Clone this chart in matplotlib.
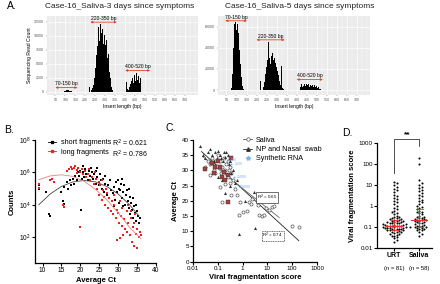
import numpy as np
import matplotlib
matplotlib.use("Agg")
import matplotlib.pyplot as plt
from matplotlib.lines import Line2D

plt.rcParams['font.family'] = ['Liberation Sans', 'DejaVu Sans']

# ---------------- data ----------------
# Panel A, day 3 histogram (insert length bp, read count)
d3_bp = [95, 100, 105, 110, 115, 120, 125, 130,
         220, 230, 235, 240, 245, 250, 255, 260, 265, 270, 275, 280, 285, 290, 295,
         300, 305, 310, 315, 320, 325, 330, 335,
         405, 410, 415, 420, 425, 430, 435, 440, 445, 450, 455, 460, 465, 470, 475,
         480, 485, 490, 495, 500, 505, 510, 515, 520, 525,
         580, 590, 600, 610, 620, 630, 640]
d3_cnt = [120, 200, 260, 300, 250, 220, 150, 100,
          900, 300, 600, 1200, 2500, 4200, 6500, 8200, 11500, 9000, 12000, 10500, 11200, 8600, 10200,
          8400, 9200, 6000, 6800, 3600, 2400, 900, 300,
          1800, 500, 300, 900, 1400, 2000, 2400, 1500, 3000, 1900, 3300, 2100, 2900, 1600, 2400,
          1300, 1900, 1000, 1500, 800, 1100, 500, 650, 300, 150,
          100, 150, 200, 180, 160, 120, 90]

# Panel A, day 5 histogram
d5_bp = [75, 80, 85, 90, 95, 100, 105, 110, 115, 120, 125, 130, 135,
         220, 235, 240, 245, 250, 255, 260, 265, 270, 275, 280, 285, 290, 295,
         300, 305, 310, 315, 320, 325, 330, 335,
         420, 425, 430, 435, 440, 445, 450, 455, 460, 465, 470, 475, 480, 485,
         490, 495, 500, 505, 510, 515, 520,
         600, 610, 620, 630, 640, 650]
d5_cnt = [2000, 15000, 40000, 62000, 64000, 57000, 62000, 54000, 38000, 25000, 12000, 4000, 800,
          9000, 3000, 8000, 15000, 22000, 28000, 45000, 30000, 25000, 32000, 35000, 28000, 30000, 26000,
          22000, 18000, 14000, 9000, 5000, 23000, 2000, 800,
          3000, 6000, 2500, 4000, 5500, 3500, 6000, 4500, 5500, 3000, 5000, 4000, 5200, 3000,
          4500, 2500, 4000, 2000, 3000, 1500, 800,
          1000, 1500, 1300, 1200, 1400, 900]

# Panel B: average Ct vs log10 counts
short_ct = [9.0, 9.1, 10.9, 11.6, 11.9, 14.9, 15.4, 15.6, 15.8, 16.4, 16.8, 17.2, 17.6, 18.0, 18.3,
            18.7, 19.0, 19.3, 19.6, 19.9, 20.1, 20.3, 20.6, 21.0, 21.3, 21.6, 22.0, 22.3, 22.6, 23.0,
            23.3, 23.6, 24.0, 24.2, 24.5, 24.8, 25.1, 25.4, 25.7, 26.0, 26.2, 26.5, 26.8, 27.1, 27.4,
            27.7, 28.0, 28.3, 28.6, 28.9, 29.2, 29.5, 29.8, 30.0, 30.2, 30.5, 30.7, 31.0, 31.2, 31.4,
            31.6, 31.8, 32.0, 32.2, 32.4, 32.6, 32.8, 33.0, 33.2, 33.4, 33.6, 33.8, 34.0, 34.2, 34.4,
            34.6, 34.8, 35.0, 35.2, 35.5, 35.7, 30.3, 31.1, 32.9, 29.0, 27.9, 26.6, 24.4, 22.8, 20.8]
short_log = [5.2, 4.95, 4.8, 3.45, 3.3, 4.8, 4.2, 4.05, 5.1, 5.4, 5.0, 5.5, 5.2, 5.6, 5.3,
             5.75, 5.5, 6.0, 5.8, 6.1, 3.7, 5.6, 6.0, 5.7, 6.2, 5.9, 5.5, 6.1, 5.8, 6.0,
             5.6, 5.9, 5.3, 6.1, 5.7, 5.2, 5.9, 5.5, 5.0, 5.6, 4.8, 5.3, 5.0, 4.6, 5.2,
             4.4, 4.9, 4.2, 4.7, 5.1, 4.3, 5.4, 4.8, 5.5, 4.1, 4.9, 5.3, 4.4, 3.9, 4.8,
             5.2, 4.0, 4.6, 3.6, 4.9, 4.2, 3.8, 4.5, 3.4, 4.1, 3.7, 4.4, 3.2, 3.9, 3.5,
             4.0, 3.0, 3.6, 3.3, 2.9, 3.2, 5.0, 5.6, 5.0, 3.9, 5.5, 5.8, 6.3, 6.3, 6.4]
long_ct = [9.0, 9.1, 11.9, 12.4, 12.9, 15.5, 15.7, 17.0, 17.4, 17.8, 18.2, 18.6, 19.0, 19.4, 19.8,
           20.0, 20.3, 20.7, 21.2, 21.6, 22.0, 22.5, 23.0, 23.5, 24.0, 24.5, 24.8, 25.0, 25.3, 25.6,
           26.0, 26.3, 26.6, 27.0, 27.3, 27.6, 28.0, 28.3, 28.6, 29.0, 29.3, 29.6, 29.7, 30.0, 30.3,
           30.6, 30.8, 31.1, 31.4, 31.6, 31.9, 32.2, 32.4, 32.7, 33.0, 33.3, 33.6, 33.8, 34.1, 34.3,
           34.6, 34.9, 35.1, 35.4, 35.7, 36.0, 31.0, 32.5, 33.5, 34.5, 30.5, 28.8, 26.8, 25.8, 23.8,
           22.2, 19.0, 16.5]
long_log = [5.3, 5.05, 5.5, 5.6, 5.4, 4.0, 3.85, 6.2, 6.35, 6.2, 6.3, 6.4, 6.15, 6.3, 6.0,
            2.6, 6.2, 5.9, 6.1, 5.7, 5.9, 5.5, 5.7, 5.3, 5.6, 5.0, 5.4, 4.6, 5.2, 4.3,
            4.9, 4.5, 4.0, 4.7, 3.8, 4.4, 3.6, 4.2, 3.4, 4.0, 3.2, 3.7, 1.85, 3.5, 2.9,
            1.95, 3.3, 2.7, 2.15, 3.1, 2.5, 3.6, 2.3, 2.9, 2.1, 3.2, 1.7, 2.6, 1.45, 2.9,
            2.2, 1.3, 2.5, 2.0, 2.3, 2.1, 3.8, 4.0, 3.6, 3.4, 4.2, 4.6, 5.0, 5.5, 6.0,
            6.2, 5.95, 6.1]
# fitted curves
fit_ct = [9, 12, 15, 18, 21, 24, 27, 30, 33, 35.5]
short_fit = [4.0, 4.66, 5.13, 5.41, 5.5, 5.41, 5.13, 4.66, 4.0, 3.31]
long_fit_ct = [9, 12, 15, 18, 21, 24, 27, 30, 33, 36]
long_fit = [5.55, 5.78, 5.85, 5.75, 5.45, 4.95, 4.3, 3.5, 2.6, 1.9]

# Panel C: fragmentation score vs Ct
sal_score = [0.03, 0.04, 0.05, 0.06, 0.07, 0.08, 0.09, 0.1, 0.12, 0.13, 0.15, 0.17, 0.2, 0.22, 0.25,
             0.28, 0.3, 0.35, 0.4, 0.12, 0.2, 0.15, 0.35, 0.5, 0.6, 0.7, 0.8, 1.0, 1.5, 1.8,
             2.2, 2.5, 4.0, 4.5, 6.0, 7.0, 9.0, 12.0, 15.0, 18.0, 100.0, 180.0, 0.05, 0.08, 0.25, 0.3]
sal_ct = [31, 33, 32, 34, 30, 33, 31.5, 35, 33, 29, 31, 34, 30, 32, 28,
          30, 26, 29, 27, 24.5, 25.5, 19.5, 22, 24, 22, 15.5, 19.5, 16.2, 16.5, 19.5,
          19, 20.5, 18.5, 15.3, 15, 15.2, 17.5, 17, 18, 18.3, 11.8, 11.3, 28.5, 29, 33, 31]
np_score = [0.02, 0.025, 0.03, 0.04, 0.05, 0.06, 0.07, 0.08, 0.09, 0.1, 0.12, 0.14, 0.16, 0.18, 0.2,
            0.22, 0.25, 0.28, 0.3, 0.35, 0.4, 0.2, 0.3, 0.6, 3.0, 3.2, 0.7, 1.2, 0.15, 0.1, 0.5]
np_ct = [38, 35, 34, 36, 37, 35, 33, 36, 34, 36.5, 35, 34, 33, 36, 34.5,
         36, 35, 32, 33, 29, 30, 22.5, 25, 27, 23, 11, 9, 20, 27, 28, 26]
pair_score = [0.03, 0.06, 0.08, 0.1, 0.12, 0.15, 0.2, 0.25, 0.33, 0.26, 0.18, 0.07]
pair_ct = [30.4, 32.3, 31, 33, 31, 28, 27, 28.5, 34, 19.7, 29.5, 29]
rna_score = [0.25, 0.35, 0.45, 0.5]
rna_ct = [33.5, 32, 28, 24.5]
rna_label = ["500", "2500", "25000", "250000"]
line1_x = [0.022, 185]
line1_y = [36.2, 6.9]
line2_x = [0.025, 30]
line2_y = [34.5, 14.5]

# Panel D: viral fragmentation score by sample type
urt = [0.02, 0.025, 0.03, 0.035, 0.04, 0.04, 0.045, 0.05, 0.05, 0.055, 0.06, 0.06, 0.06, 0.065,
       0.07, 0.07, 0.07, 0.075, 0.08, 0.08, 0.08, 0.085, 0.09, 0.09, 0.09, 0.09, 0.1, 0.1, 0.1,
       0.1, 0.11, 0.11, 0.11, 0.12, 0.12, 0.12, 0.13, 0.13, 0.13, 0.14, 0.14, 0.15, 0.15, 0.16,
       0.16, 0.17, 0.18, 0.18, 0.19, 0.2, 0.2, 0.22, 0.23, 0.25, 0.25, 0.27, 0.28, 0.3, 0.32,
       0.35, 0.4, 0.45, 0.5, 0.6, 0.7, 0.8, 1.0, 1.2, 1.5, 1.8, 2.2, 2.5, 3.0, 3.5, 4.5, 5.5,
       6.5, 8.0, 10.0, 12.0, 14.0]
saliva = [0.04, 0.05, 0.06, 0.07, 0.07, 0.08, 0.08, 0.09, 0.09, 0.1, 0.1, 0.11, 0.12, 0.12, 0.13,
          0.14, 0.15, 0.16, 0.17, 0.18, 0.19, 0.2, 0.21, 0.22, 0.23, 0.24, 0.25, 0.27, 0.28, 0.3,
          0.32, 0.35, 0.4, 0.45, 0.5, 0.55, 0.6, 0.7, 0.8, 0.9, 1.0, 1.2, 1.5, 1.8, 2.0, 2.5,
          3.0, 3.5, 4.0, 5.0, 6.0, 7.0, 8.0, 10.0, 17.0, 100.0, 180.0, 12.0]
groups = ["URT", "Saliva"]
group_n = ["(n = 81)", "(n = 58)"]
medians = [0.12, 0.23]
q_low = [0.075, 0.1]
q_high = [0.21, 0.75]

W, H = 440, 284
fig = plt.figure(figsize=(4.4, 2.84), dpi=100)


def px_axes(x0, y0, x1, y1):
    return fig.add_axes([x0 / W, 1 - y1 / H, (x1 - x0) / W, (y1 - y0) / H])


def gg_hist(ax, bp, cnt, ylim, yticks):
    ax.set_facecolor('#EBEBEB')
    ax.bar(bp, cnt, width=3.5, color='black', zorder=3)
    ax.set_xlim(8, 765)
    ax.set_ylim(*ylim)
    ax.set_xticks(range(50, 701, 50))
    ax.set_xticks(range(25, 751, 25), minor=True)
    ax.set_yticks(yticks)
    ax.grid(True, which='major', color='white', lw=0.5, zorder=0)
    ax.grid(True, which='minor', color='white', lw=0.25, zorder=0)
    for s in ax.spines.values():
        s.set_visible(False)
    ax.tick_params(which='both', labelsize=2.6, colors='#555', length=1, width=0.3, pad=1)
    ax.tick_params(which='minor', length=0)
    ax.set_xlabel("Insert length (bp)", fontsize=3.6, labelpad=1.5)


def bp_arrow(ax, x0, x1, y, label):
    ax.annotate('', xy=(x0, y), xytext=(x1, y), zorder=5, annotation_clip=False,
                arrowprops=dict(arrowstyle='<|-|>', color='#E8422C', lw=0.6,
                                mutation_scale=3, shrinkA=0, shrinkB=0))
    ax.annotate(label, ((x0 + x1) / 2, y), xytext=(0, 0.8), textcoords='offset points',
                ha='center', va='bottom', fontsize=3.6, zorder=6, annotation_clip=False)


# ---------------- Panel A ----------------
axA1 = px_axes(47, 16, 198, 95)
gg_hist(axA1, d3_bp, d3_cnt, (-570, 13500), [0, 2500, 5000, 7500, 10000, 12500])
axA1.set_ylabel("Sequencing Read Count", fontsize=3.6, labelpad=1.5)
bp_arrow(axA1, 225, 358, 12400, "220-350 bp")
bp_arrow(axA1, 50, 160, 750, "70-150 bp")
bp_arrow(axA1, 400, 525, 3800, "400-520 bp")

axA2 = px_axes(218, 16, 370, 95)
gg_hist(axA2, d5_bp, d5_cnt, (-4600, 70000), [0, 20000, 40000, 60000])
bp_arrow(axA2, 45, 152, 65500, "70-150 bp")
bp_arrow(axA2, 200, 340, 47500, "220-350 bp")
bp_arrow(axA2, 400, 530, 10000, "400-520 bp")

fig.text(120 / W, 1 - 7 / H, "Case-16_Saliva-3 days since symptoms", ha='center', va='center',
         fontsize=6, color='#222')
fig.text(300 / W, 1 - 7 / H, "Case-16_Saliva-5 days since symptoms", ha='center', va='center',
         fontsize=6, color='#222')
fig.text(12 / W, 1 - 6 / H, "A.", ha='center', va='center', fontsize=7.5)
fig.text(9 / W, 1 - 130 / H, "B.", ha='center', va='center', fontsize=7.5)
fig.text(171 / W, 1 - 128 / H, "C.", ha='center', va='center', fontsize=7.5)
fig.text(347 / W, 1 - 133 / H, "D.", ha='center', va='center', fontsize=7.5)


def prism(ax):
    for s in ['top', 'right']:
        ax.spines[s].set_visible(False)
    for s in ['left', 'bottom']:
        ax.spines[s].set_linewidth(0.9)
    ax.tick_params(labelsize=4.8, length=2, width=0.8, pad=1)


# ---------------- Panel B ----------------
axB = px_axes(35, 140, 156, 263)
axB.scatter(short_ct, 10 ** np.array(short_log), s=2, marker='s', color='black', lw=0, zorder=3)
axB.scatter(long_ct, 10 ** np.array(long_log), s=2, marker='s', color='#F21D1D', lw=0, zorder=3)
axB.plot(fit_ct, 10 ** np.array(short_fit), color='#444', lw=0.6, zorder=4)
axB.plot(long_fit_ct, 10 ** np.array(long_fit), color='#F08080', lw=0.6, zorder=4)
axB.set_yscale('log')
axB.set_ylim(2.5, 1e8)
axB.set_xlim(8, 40)
axB.set_xticks([10, 15, 20, 25, 30, 35, 40])
axB.set_yticks([1e2, 1e4, 1e6, 1e8])
axB.minorticks_off()
prism(axB)
axB.set_xlabel("Average Ct", fontsize=5.5, fontweight='bold', labelpad=2)
axB.set_ylabel("Counts", fontsize=5.5, fontweight='bold', labelpad=2)
hB = [Line2D([0], [0], color='black', marker='s', ms=1.5, lw=0.6),
      Line2D([0], [0], color='#F21D1D', marker='s', ms=1.5, lw=0.6)]
axB.legend(hB, ["short fragments", "long fragments"], loc='upper left', bbox_to_anchor=(0.08, 1.03),
           frameon=False, fontsize=5.2, handlelength=1.2, handletextpad=0.6, labelspacing=0.35,
           borderaxespad=0)
axB.text(0.64, 0.97, "R$^2$ = 0.621", transform=axB.transAxes, fontsize=5, va='center')
axB.text(0.64, 0.885, "R$^2$ = 0.786", transform=axB.transAxes, fontsize=5, va='center')

# ---------------- Panel C ----------------
axC = px_axes(193, 140, 317, 261.7)
axC.set_xscale('log')
axC.plot(line1_x, line1_y, color='#222', lw=0.6, zorder=2)
axC.plot(line2_x, line2_y, color='#666', lw=0.6, zorder=2)
axC.scatter(sal_score, sal_ct, s=5, marker='o', facecolor='white', edgecolor='#555', lw=0.5, zorder=3)
axC.scatter(np_score, np_ct, s=5, marker='^', color='#333', lw=0, zorder=3)
axC.scatter(pair_score, pair_ct, s=5, marker='s', color='#A3403F', lw=0.3, edgecolor='#333', zorder=4)
axC.scatter(rna_score, rna_ct, s=6, marker='*', color='#7FB2F0', lw=0, zorder=5)
for xs, ys, lab in zip(rna_score, rna_ct, rna_label):
    axC.text(xs * 1.35, ys, lab, fontsize=2.6, color='#7FB2F0', va='center', zorder=5)
axC.text(9.5, 21, "R$^2$ = 0.65", fontsize=3.2, ha='center', va='center',
         bbox=dict(boxstyle='square,pad=0.15', fc='white', ec='#333', lw=0.5))
axC.text(16.5, 8.5, "R$^2$ = 0.74", fontsize=3.2, ha='center', va='center',
         bbox=dict(boxstyle='square,pad=0.15', fc='white', ec='#333', lw=0.5, ls=(0, (1.5, 1))))
axC.set_xlim(0.01, 1000)
axC.set_ylim(0, 40)
axC.set_xticks([0.01, 0.1, 1, 10, 100, 1000])
axC.set_xticklabels(["0.01", "0.1", "1", "10", "100", "1000"])
axC.set_yticks(range(0, 41, 5))
axC.minorticks_off()
prism(axC)
axC.tick_params(labelsize=4.5)
axC.set_xlabel("Viral fragmentation score", fontsize=5.5, fontweight='bold', labelpad=2)
axC.set_ylabel("Average Ct", fontsize=5.5, fontweight='bold', labelpad=2)
hC = [Line2D([0], [0], color='#555', marker='o', mfc='white', ms=2.5, lw=0.6, mew=0.5),
      Line2D([0], [0], color='#333', marker='^', ms=2.5, lw=0.6),
      Line2D([0], [0], color='#7FB2F0', marker='*', ms=3, lw=0)]
axC.legend(hC, ["Saliva", "NP and Nasal  swab", "Synthetic RNA"], loc='upper left',
           bbox_to_anchor=(0.38, 1.05), frameon=False, fontsize=5.2, handlelength=1.3,
           handletextpad=0.5, labelspacing=0.3, borderaxespad=0)


# ---------------- Panel D ----------------
def swarm_offsets(vals, ypx, dpx):
    ys = np.log10(vals) * ypx
    order = np.argsort(ys)
    placed = []
    offs = np.zeros(len(vals))
    for i in order:
        k = 0
        while True:
            cand = ((k + 1) // 2) * dpx * (1 if k % 2 else -1) if k else 0.0
            ok = all((cand - xo) ** 2 + (ys[i] - yo) ** 2 >= dpx ** 2 for xo, yo in placed)
            if ok:
                break
            k += 1
        placed.append((cand, ys[i]))
        offs[i] = cand
    return offs


axD = px_axes(376.7, 142.7, 432, 248.3)
axD.set_yscale('log')
px_per_unit = 55.3 / 2.2
for gi, vals in enumerate([urt, saliva]):
    offs = swarm_offsets(vals, 21.1, 2.3) / px_per_unit
    axD.scatter(gi + offs, vals, s=2.2, color='black', lw=0, zorder=3)
    axD.plot([gi - 0.32, gi + 0.32], [medians[gi]] * 2, color='#E8302A', lw=0.8, zorder=4)
    axD.plot([gi, gi], [q_low[gi], q_high[gi]], color='#E8302A', lw=0.6, zorder=4)
    for q in (q_low[gi], q_high[gi]):
        axD.plot([gi - 0.15, gi + 0.15], [q, q], color='#E8302A', lw=0.6, zorder=4)
axD.set_xlim(-0.7, 1.5)
axD.set_ylim(0.01, 1000)
axD.set_yticks([0.01, 0.1, 1, 10, 100, 1000])
axD.set_yticklabels(["0.01", "0.1", "1", "10", "100", "1000"])
axD.minorticks_off()
axD.set_xticks([0, 1])
axD.set_xticklabels(groups, fontweight='bold')
prism(axD)
axD.tick_params(labelsize=4.5)
axD.tick_params(axis='x', labelsize=5)
for gi, lab in enumerate(group_n):
    axD.text(gi, -0.17, lab, transform=axD.get_xaxis_transform(), ha='center', va='top', fontsize=4.2)
axD.set_ylabel("Viral fragmentation score", fontsize=5.5, fontweight='bold', labelpad=2)
axD.plot([0, 0, 1, 1], [38, 1500, 1500, 700], color='#333', lw=0.6, clip_on=False)
axD.text(0.5, 1700, "**", ha='center', va='bottom', fontsize=6, fontweight='bold')

fig.savefig("out.png", dpi=100)
